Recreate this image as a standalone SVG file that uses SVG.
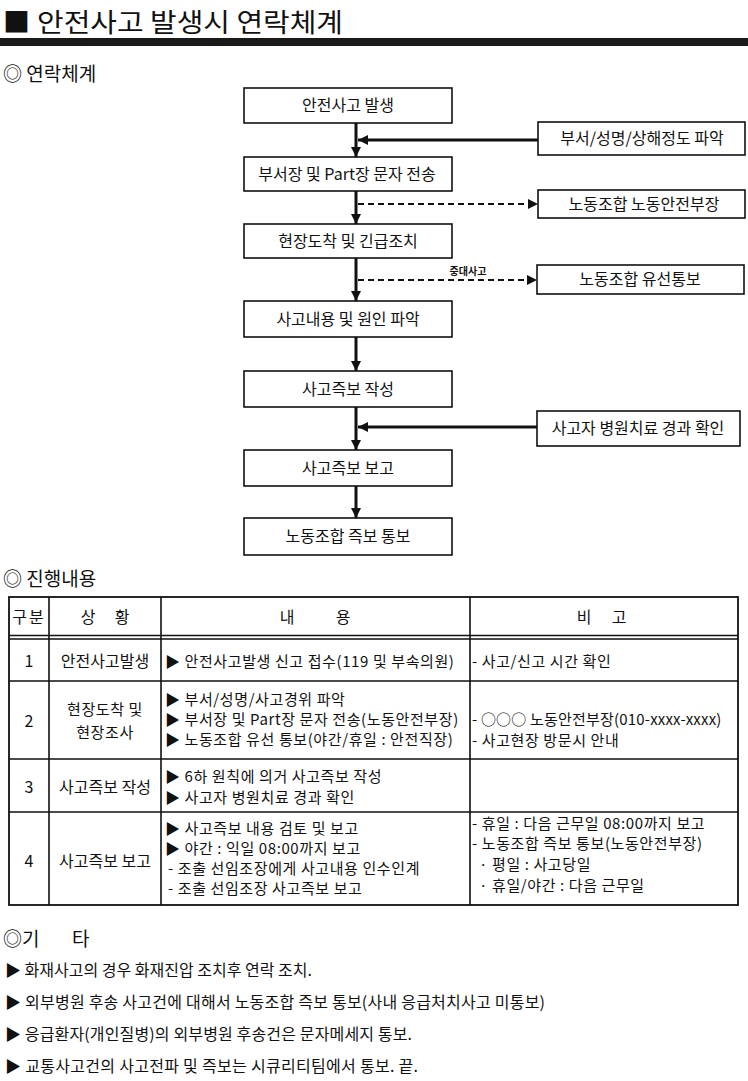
<svg xmlns="http://www.w3.org/2000/svg" width="748" height="1081" viewBox="0 0 748 1081">
<defs>
<style>
.t{font-family:"Noto Sans CJK KR","Noto Sans",sans-serif;font-size:16px;fill:#111}
.tb{font-size:15px;letter-spacing:0.6px}
.c{text-anchor:middle}
.h{font-size:19px}
.box{fill:#fff;stroke:#111;stroke-width:1.6}
.solid{stroke:#111;stroke-width:3;fill:none}
.dash{stroke:#111;stroke-width:2;stroke-dasharray:6 4;fill:none}
.grid{stroke:#111;stroke-width:1.6;fill:none}
</style>
<marker id="ah" markerUnits="userSpaceOnUse" markerWidth="10" markerHeight="10" refX="10" refY="5" orient="auto">
<path d="M0,0 L10,5 L0,10 z" fill="#111"/>
</marker>
</defs>
<rect width="748" height="1081" fill="#fff"/>
<g id="title">
<text class="t" x="3" y="32" style="font-size:27px">■</text>
<text class="t" x="37" y="32" style="font-size:26.5px" textLength="306" lengthAdjust="spacingAndGlyphs">안전사고 발생시 연락체계</text>
<rect x="0" y="38" width="748" height="8" fill="#1a1a1a"/>
</g>
<text class="t h" x="3" y="81">◎ 연락체계</text>

<g id="connectors">
<path class="solid" d="M356,123 V157" marker-end="url(#ah)"/>
<path class="solid" d="M538,140 H358" marker-end="url(#ah)"/>
<path class="solid" d="M356,191 V224" marker-end="url(#ah)"/>
<path class="dash" d="M358,204 H538" marker-end="url(#ah)"/>
<path class="solid" d="M356,258 V301" marker-end="url(#ah)"/>
<path class="dash" d="M358,280 H537" marker-end="url(#ah)"/>
<text class="t c" x="468" y="275" style="font-size:10px;font-weight:bold">중대사고</text>
<path class="solid" d="M356,337 V371" marker-end="url(#ah)"/>
<path class="solid" d="M356,407 V450" marker-end="url(#ah)"/>
<path class="solid" d="M537,427 H358" marker-end="url(#ah)"/>
<path class="solid" d="M356,486 V518" marker-end="url(#ah)"/>
</g>

<g id="n1"><rect class="box" x="244" y="88" width="208" height="35"/><text class="t c" x="348" y="111">안전사고 발생</text></g>
<g id="n2"><rect class="box" x="244" y="157" width="208" height="34"/><text class="t c" x="347" y="179.5">부서장 및 Part장 문자 전송</text></g>
<g id="n3"><rect class="box" x="244" y="224" width="208" height="34"/><text class="t c" x="348" y="246.5">현장도착 및 긴급조치</text></g>
<g id="n4"><rect class="box" x="244" y="301" width="208" height="36"/><text class="t c" x="348" y="324.5">사고내용 및 원인 파악</text></g>
<g id="n5"><rect class="box" x="244" y="371" width="208" height="36"/><text class="t c" x="348" y="394.5">사고즉보 작성</text></g>
<g id="n6"><rect class="box" x="244" y="450" width="208" height="36"/><text class="t c" x="348" y="473.5">사고즉보 보고</text></g>
<g id="n7"><rect class="box" x="244" y="518" width="208" height="37"/><text class="t c" x="348" y="542">노동조합 즉보 통보</text></g>
<g id="s1"><rect class="box" x="538" y="122" width="207" height="33"/><text class="t c" x="642" y="144">부서/성명/상해정도 파악</text></g>
<g id="s2"><rect class="box" x="538" y="190" width="207" height="28"/><text class="t c" x="644" y="209.5">노동조합 노동안전부장</text></g>
<g id="s3"><rect class="box" x="537" y="265" width="207" height="29"/><text class="t c" x="640" y="285">노동조합 유선통보</text></g>
<g id="s4"><rect class="box" x="537" y="411" width="203" height="35"/><text class="t c" x="638" y="434">사고자 병원치료 경과 확인</text></g>

<text class="t h" x="3" y="586">◎ 진행내용</text>

<g id="table">
<rect class="grid" x="9" y="597" width="729" height="308" style="stroke-width:1.8"/>
<path class="grid" d="M49,597 V905 M161,597 V905 M470,597 V905"/>
<path class="grid" d="M9,635.5 H738 M9,639 H738 M9,681 H738 M9,759 H738 M9,812 H738"/>
<text class="t c" x="29" y="623" letter-spacing="2">구분</text>
<text class="t c"><tspan x="88" y="623">상</tspan><tspan x="122" y="623">황</tspan></text>
<text class="t c"><tspan x="287" y="623">내</tspan><tspan x="343" y="623">용</tspan></text>
<text class="t c"><tspan x="584" y="623">비</tspan><tspan x="619" y="623">고</tspan></text>

<text class="t c" x="29" y="667">1</text>
<text class="t c" x="105" y="667">안전사고발생</text>
<text class="t tb" x="165" y="667">▶ 안전사고발생 신고 접수(119 및 부속의원)</text>
<text class="t tb" x="472" y="667">- 사고/신고 시간 확인</text>

<text class="t c" x="29" y="727">2</text>
<text class="t tb c" x="105" y="715">현장도착 및</text>
<text class="t tb c" x="105" y="738">현장조사</text>
<text class="t tb" x="165" y="705">▶ 부서/성명/사고경위 파악</text>
<text class="t tb" x="165" y="725">▶ 부서장 및 Part장 문자 전송(노동안전부장)</text>
<text class="t tb" x="165" y="745">▶ 노동조합 유선 통보(야간/휴일 : 안전직장)</text>
<text class="t tb" x="472" y="725" textLength="250">- ○○○ 노동안전부장(010-xxxx-xxxx)</text>
<text class="t tb" x="472" y="746">- 사고현장 방문시 안내</text>

<text class="t c" x="29" y="793">3</text>
<text class="t c" x="105" y="793">사고즉보 작성</text>
<text class="t tb" x="165" y="782">▶ 6하 원칙에 의거 사고즉보 작성</text>
<text class="t tb" x="165" y="803">▶ 사고자 병원치료 경과 확인</text>

<text class="t c" x="29" y="867">4</text>
<text class="t c" x="105" y="867">사고즉보 보고</text>
<text class="t tb" x="165" y="834">▶ 사고즉보 내용 검토 및 보고</text>
<text class="t tb" x="165" y="854">▶ 야간 : 익일 08:00까지 보고</text>
<text class="t tb" x="168" y="874">- 조출 선임조장에게 사고내용 인수인계</text>
<text class="t tb" x="168" y="894">- 조출 선임조장 사고즉보 보고</text>
<text class="t tb" x="472" y="829">- 휴일 : 다음 근무일 08:00까지 보고</text>
<text class="t tb" x="472" y="849">- 노동조합 즉보 통보(노동안전부장)</text>
<text class="t tb" x="479" y="870">· 평일 : 사고당일</text>
<text class="t tb" x="479" y="891">· 휴일/야간 : 다음 근무일</text>
</g>

<g id="notes">
<text class="t h"><tspan x="3" y="946">◎기</tspan><tspan x="72" y="946">타</tspan></text>
<text class="t" x="5" y="976" textLength="307">▶ 화재사고의 경우 화재진압 조치후 연락 조치.</text>
<text class="t" x="5" y="1008" textLength="540">▶ 외부병원 후송 사고건에 대해서 노동조합 즉보 통보(사내 응급처치사고 미통보)</text>
<text class="t" x="5" y="1040" textLength="407">▶ 응급환자(개인질병)의 외부병원 후송건은 문자메세지 통보.</text>
<text class="t" x="5" y="1072" textLength="413">▶ 교통사고건의 사고전파 및 즉보는 시큐리티팀에서 통보. 끝.</text>
</g>
</svg>
